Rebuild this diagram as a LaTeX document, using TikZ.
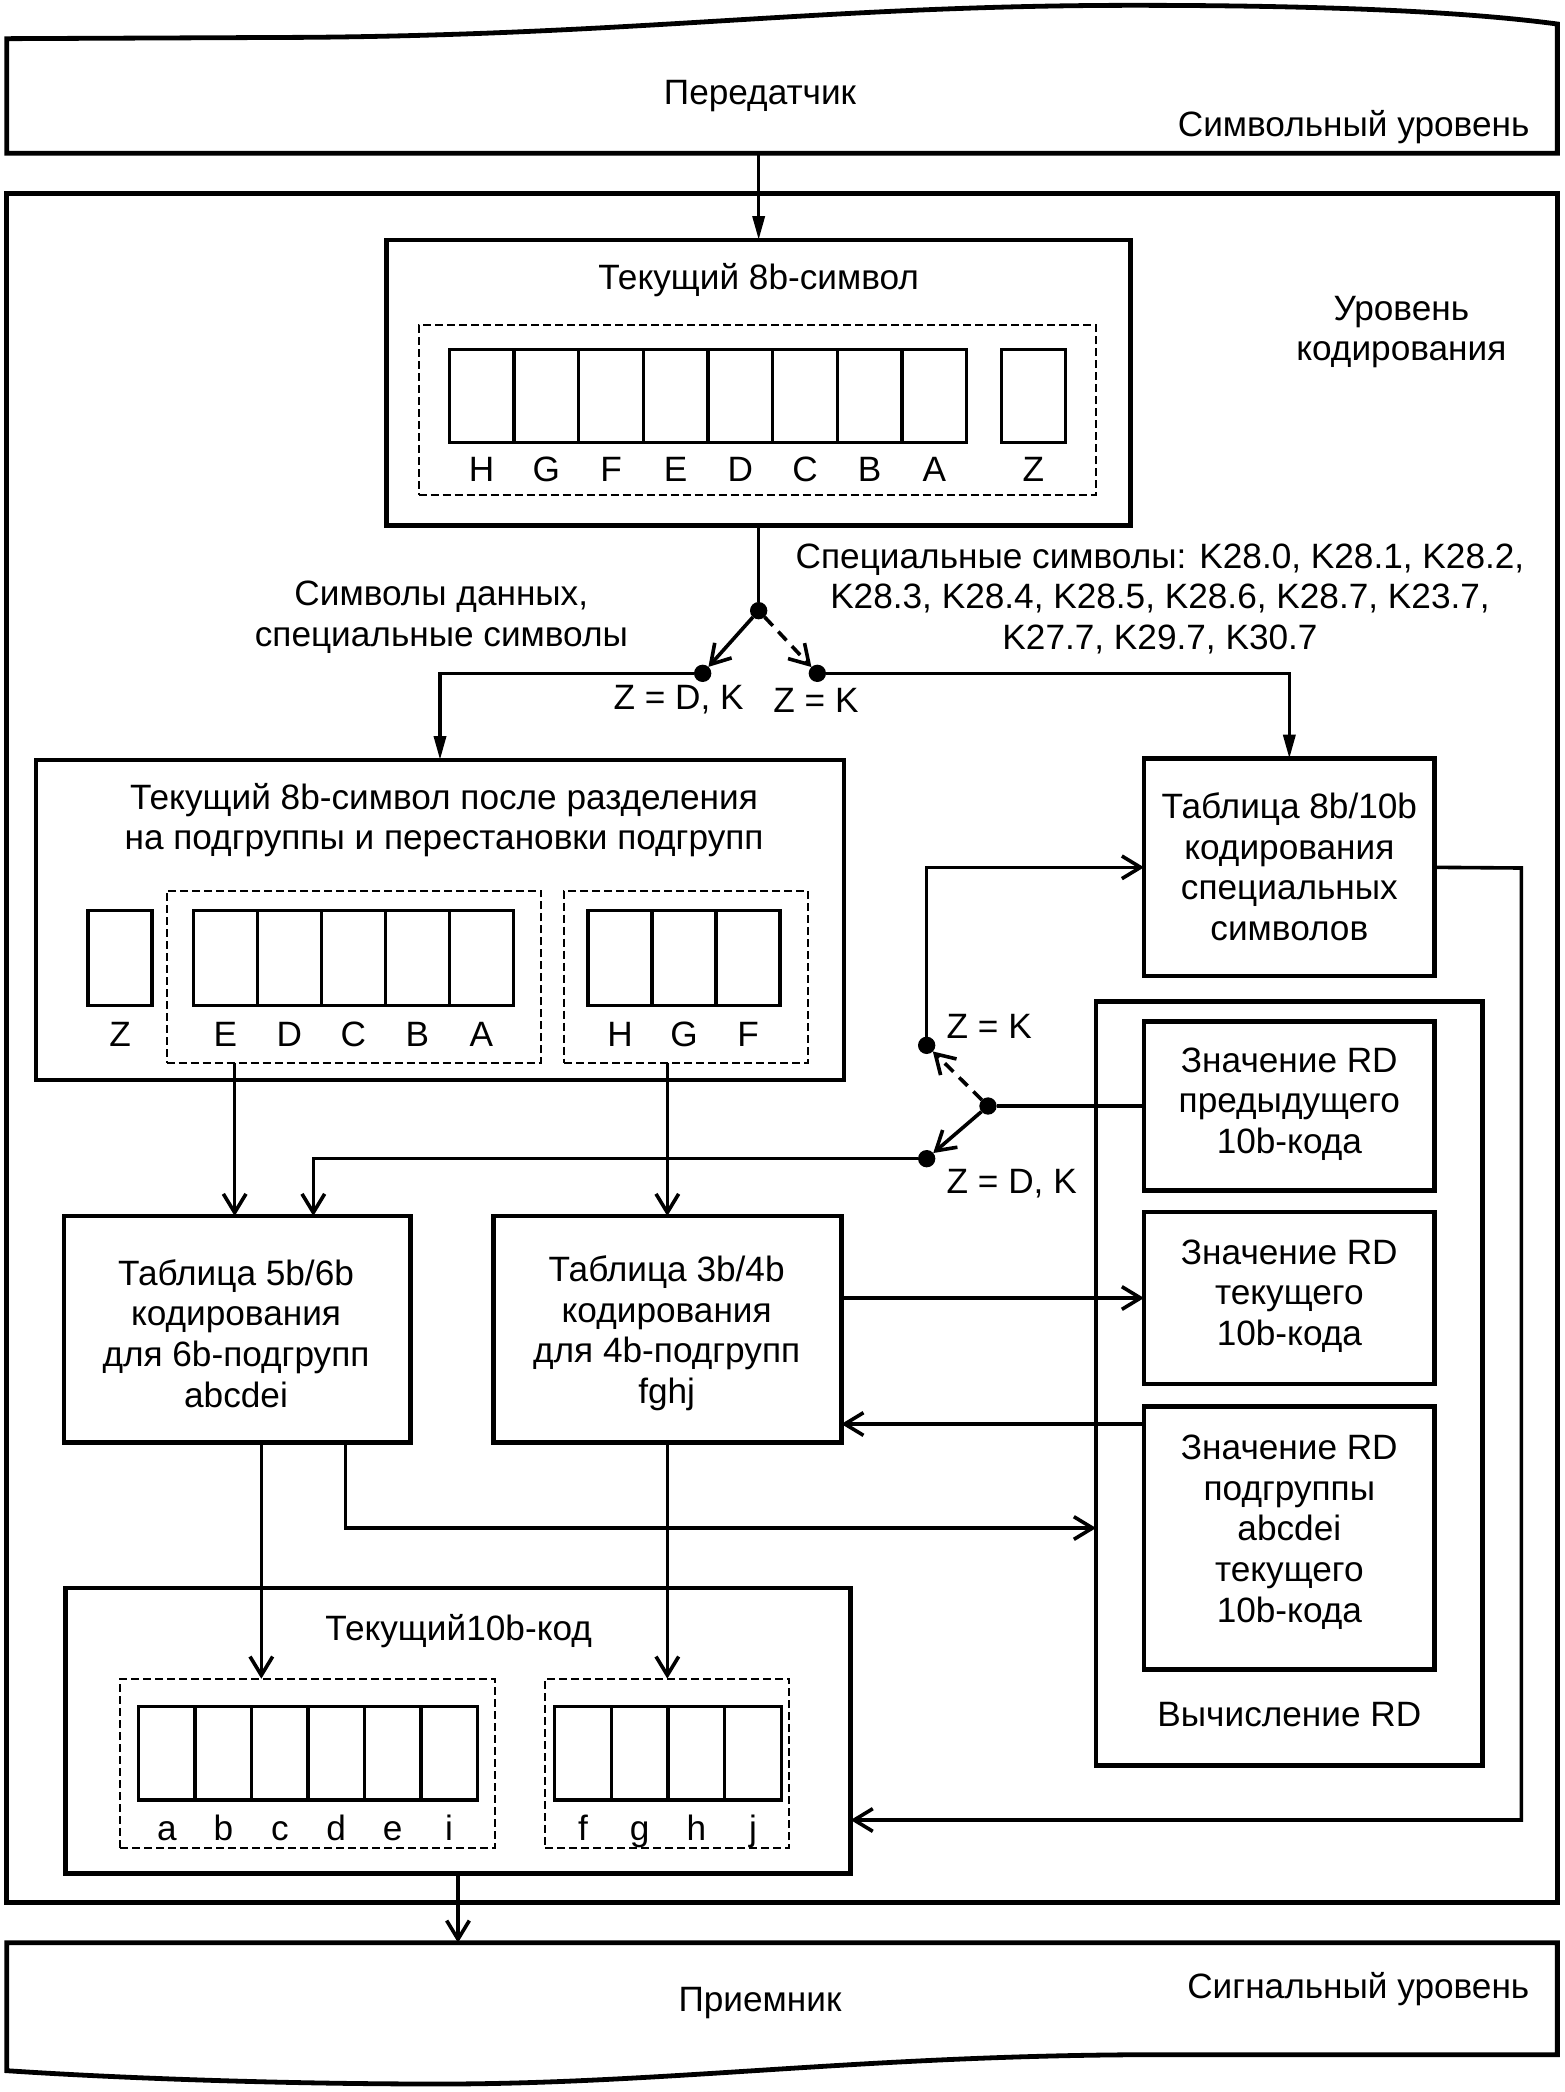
\documentclass[tikz,border=0pt]{standalone}
\usepackage{fontspec}
\setmainfont{Liberation Sans}
\usetikzlibrary{arrows.meta}
\begin{document}
\begin{tikzpicture}[x=1pt,y=-1pt,
  every node/.style={outer sep=0pt, inner sep=0pt},
  bx/.style={draw, line width=3.4pt, anchor=north west},
  dbox/.style={draw, line width=1.5pt, dash pattern=on 6pt off 3pt, anchor=north west},
  cell/.style={draw, line width=2.5pt, anchor=north west},
  txt/.style={font=\fontsize{26.4}{30.5}\selectfont, align=center},
  lbl/.style={font=\fontsize{26.4}{30.5}\selectfont, anchor=base},
  conn/.style={line width=2.7pt},
  arrF/.style={conn, -{Triangle[length=18pt,width=9pt]}},
  arrB/.style={conn, -{Straight Barb[length=14pt,width=17pt,line width=2.7pt]}},
  dot/.style={circle, fill, minimum size=13pt}
]
\useasboundingbox (0,0) rectangle (1173,1569);
% top (transmitter) box
\draw[line width=3.6pt] (5,115) -- (5,29) -- (230,28) .. controls (480,26) and (620,4) .. (850,4)
   .. controls (1000,4) and (1100,9) .. (1168,18) -- (1168,115) -- cycle;
\node[txt] (tx) at (570,72) {Передатчик};
\node[txt, anchor=east] (symlev) at (1147,95) {Символьный уровень};
% bottom (receiver) box
\draw[line width=3.6pt] (5,1457) -- (1168,1457) -- (1168,1541) -- (870,1541)
   .. controls (650,1541) and (500,1563) .. (330,1563) .. controls (200,1563) and (80,1558) .. (5,1553) -- cycle;
\node[txt] (rx) at (570,1502) {Приемник};
\node[txt, anchor=east] (siglev) at (1147,1492) {Сигнальный уровень};
% big coding-level box
\node[bx, minimum width=1163pt, minimum height=1282pt] (big) at (5,145) {};
\node[txt] (codlev) at (1051,249) {Уровень\\кодирования};
% box 1
\node[bx, minimum width=558pt, minimum height=214pt] (b1) at (290,180) {};
\node[txt] (b1t) at (569,210) {Текущий 8b-символ};
\node[dbox, minimum width=508pt, minimum height=127pt] (d1) at (314,244) {};
\foreach \i in {0,...,7} \node[cell, minimum width=48.5pt, minimum height=70pt] (ca\i) at ({337+48.5*\i},262) {};
\foreach \l [count=\i from 0] in {H,G,F,E,D,C,B,A} \node[lbl] (la\i) at ({361.25+48.5*\i},361) {\l};
\node[cell, minimum width=48pt, minimum height=70pt] (za) at (751,262) {};
\node[lbl] (zla) at (775,361) {Z};
% junction 1
\node[dot] (j1) at (569,458) {};
\node[dot] (l1) at (527,505) {};
\node[dot] (r1) at (613,505) {};
\node[txt] (lt1) at (331,463) {Символы данных,\\специальные символы};
\node[txt] (spec) at (870,449) {Специальные символы: K28.0, K28.1, K28.2,\\K28.3, K28.4, K28.5, K28.6, K28.7, K23.7,\\K27.7, K29.7, K30.7};
\node[txt] (zdk1) at (509,525) {Z = D, K};
\node[txt] (zk1) at (612,525) {Z = K};
% box 2
\node[bx, minimum width=606pt, minimum height=240pt] (b2) at (27,570) {};
\node[txt] (b2t) at (333,615) {Текущий 8b-символ после разделения\\на подгруппы и перестановки подгрупп};
\node[cell, minimum width=48pt, minimum height=71pt] (zb) at (66,683) {};
\node[lbl] (zlb) at (90,785) {Z};
\node[dbox, minimum width=281pt, minimum height=129pt] (g1) at (125,668) {};
\foreach \i in {0,...,4} \node[cell, minimum width=48pt, minimum height=71pt] (cb\i) at ({145+48*\i},683) {};
\foreach \l [count=\i from 0] in {E,D,C,B,A} \node[lbl] (lb\i) at ({169+48*\i},785) {\l};
\node[dbox, minimum width=183pt, minimum height=129pt] (g2) at (423,668) {};
\foreach \i in {0,...,2} \node[cell, minimum width=48pt, minimum height=71pt] (cc\i) at ({441+48*\i},683) {};
\foreach \l [count=\i from 0] in {H,G,F} \node[lbl] (lc\i) at ({465+48*\i},785) {\l};
% tables
\node[bx, minimum width=260pt, minimum height=170pt] (t56) at (48,912) {};
\node[txt] (t56t) at (177,1000) {Таблица 5b/6b\\кодирования\\для 6b-подгрупп\\abcdei};
\node[bx, minimum width=261pt, minimum height=170pt] (t34) at (370,912) {};
\node[txt] (t34t) at (500,1000) {Таблица 3b/4b\\кодирования\\для 4b-подгрупп\\fghj};
\node[bx, minimum width=218pt, minimum height=163pt] (t810) at (858,569) {};
\node[txt] (t810t) at (967,650) {Таблица 8b/10b\\кодирования\\специальных\\символов};
% RD block
\node[bx, minimum width=290pt, minimum height=573pt] (rd) at (822,751) {};
\node[bx, minimum width=218pt, minimum height=127pt] (rdp) at (858,766) {};
\node[txt] (rdpt) at (967,828) {Значение RD\\предыдущего\\10b-кода};
\node[bx, minimum width=218pt, minimum height=129pt] (rdc) at (858,909) {};
\node[txt] (rdct) at (967,972) {Значение RD\\текущего\\10b-кода};
\node[bx, minimum width=218pt, minimum height=197pt] (rda) at (858,1055) {};
\node[txt] (rdat) at (967,1149) {Значение RD\\подгруппы\\abcdei\\текущего\\10b-кода};
\node[txt] (rdlab) at (967,1286) {Вычисление RD};
% junction 2
\node[dot] (j2) at (741,829.5) {};
\node[dot] (u2) at (695,784) {};
\node[dot] (w2) at (695,869) {};
\node[txt, anchor=west] (zk2) at (710,770) {Z = K};
\node[txt, anchor=west] (zdk2) at (710,888) {Z = D, K};
% 10b code box
\node[bx, minimum width=589pt, minimum height=214pt] (b10) at (49,1191) {};
\node[txt] (b10t) at (344,1223) {Текущий10b-код};
\node[dbox, minimum width=281pt, minimum height=127pt] (ga) at (90,1259) {};
\foreach \i in {0,...,5} \node[cell, minimum width=42.33pt, minimum height=70pt] (cd\i) at ({104+42.33*\i},1280) {};
\foreach \l [count=\i from 0] in {a,b,c,d,e,i} \node[lbl] (ld\i) at ({125.2+42.33*\i},1380) {\l};
\node[dbox, minimum width=183pt, minimum height=127pt] (gf) at (409,1259) {};
\foreach \i in {0,...,3} \node[cell, minimum width=42.5pt, minimum height=70pt] (ce\i) at ({416+42.5*\i},1280) {};
\foreach \l [count=\i from 0] in {f,g,h,j} \node[lbl] (le\i) at ({437.25+42.5*\i},1380) {\l};
% coordinates for connector ends
\coordinate (tbs) at (569,115);
\coordinate (t56a) at (176,912);
\coordinate (t56b) at (235,912);
\coordinate (t56c) at (259,1082);
\coordinate (t56d) at (196,1082);
\coordinate (rdin) at (822,1146);
\coordinate (rdaq) at (858,1068);
\coordinate (rtop) at (1141,651);
\coordinate (b10in) at (638,1365);
\coordinate (rxin) at (343.5,1457);
% connectors
\draw[arrF] (tbs) -- (b1.north);
\draw[conn] (b1.south) -- (j1);
\draw[arrB] (j1) -- (l1);
\draw[arrB, dash pattern=on 9pt off 6pt] (j1) -- (r1);
\draw[arrF] (l1) -| (b2.north);
\draw[arrF] (r1) -| (t810.north);
\draw[arrB] (g1.south -| t56a) -- (t56a);
\draw[arrB] (g2.south -| t34.north) -- (t34.north);
\draw[conn] (rdp.west) -- (j2);
\draw[arrB, dash pattern=on 9pt off 6pt] (j2) -- (u2);
\draw[arrB] (j2) -- (w2);
\draw[arrB] (u2) |- (t810.west);
\draw[arrB] (w2) -| (t56b);
\draw[arrB] (t34.east |- rdc.west) -- (rdc.west);
\draw[arrB] (rdaq) -- (rdaq -| t34.east);
\draw[arrB] (t56c) |- (rdin);
\draw[arrB] (t56d) -- (t56d |- ga.north);
\draw[arrB] (t34.south) -- (gf.north);
\draw[arrB] (t810.east) -- (rtop) |- (b10in);
\draw[arrB] (b10.south) -- (rxin);
\end{tikzpicture}
\end{document}
